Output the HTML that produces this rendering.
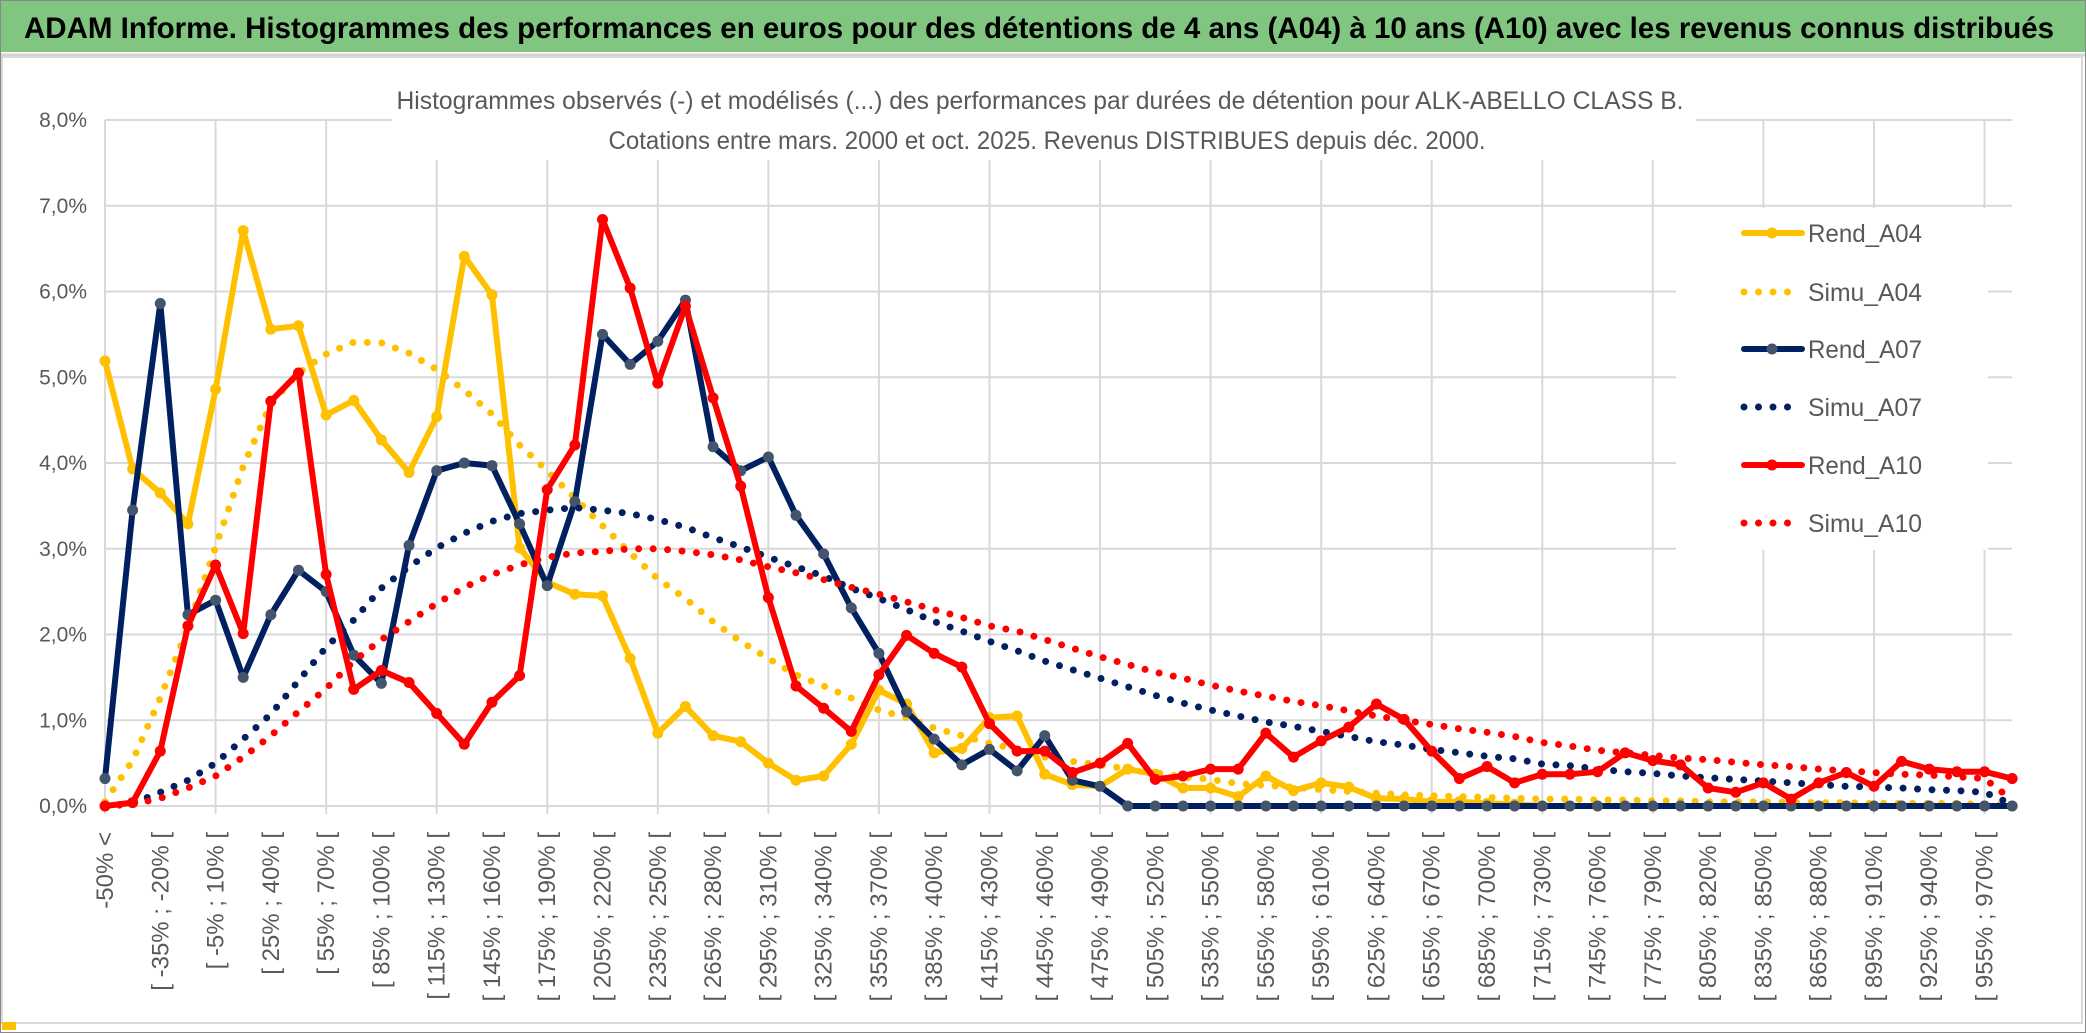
<!DOCTYPE html>
<html><head><meta charset="utf-8"><style>
html,body{margin:0;padding:0;background:#fff;}
svg{display:block;font-family:"Liberation Sans",sans-serif;}
</style></head><body>
<svg id="chart" width="2086" height="1033" viewBox="0 0 2086 1033" xmlns="http://www.w3.org/2000/svg">
<rect x="0" y="0" width="2086" height="1033" fill="#fff"/>
<rect x="0" y="0" width="2086" height="52" fill="#80c680"/>
<line x1="0" y1="55" x2="2086" y2="55" stroke="#d4d4d4" stroke-width="3"/>
<text x="24" y="38" font-size="30" font-weight="bold" fill="#000" textLength="2030" lengthAdjust="spacingAndGlyphs">ADAM Informe. Histogrammes des performances en euros pour des détentions de 4 ans (A04) à 10 ans (A10) avec les revenus connus distribués</text>
<rect x="2" y="57" width="2080" height="966" fill="none" stroke="#d9d9d9" stroke-width="2"/>
<rect x="0.5" y="0.5" width="2085" height="1032" fill="none" stroke="#888" stroke-width="1"/>
<rect x="2" y="1022" width="14" height="8" fill="#ffc000"/>
<rect x="2064" y="968" width="18" height="10" fill="#ffc000" opacity="0"/>
<g id="grid"></g>
<g id="yaxis"></g>
<g id="xaxis"></g>
<rect x="392" y="82" width="1304" height="78" fill="#fff"/>
<text x="1040" y="109" font-size="25" fill="#595959" text-anchor="middle" textLength="1287" lengthAdjust="spacingAndGlyphs">Histogrammes observés (-) et modélisés (...) des performances par durées de détention pour ALK-ABELLO CLASS B.</text>
<text x="1047" y="149" font-size="25" fill="#595959" text-anchor="middle" textLength="877" lengthAdjust="spacingAndGlyphs">Cotations entre mars. 2000 et oct. 2025. Revenus DISTRIBUES depuis déc. 2000.</text>
<g id="series"></g>
<rect x="1676" y="208" width="312" height="342" fill="#fff"/>
<g id="legend"></g>
</svg>
<script>
const categories = ["-50% <","[ -50% ; -35% [","[ -35% ; -20% [","[ -20% ; -5% [","[ -5% ; 10% [","[ 10% ; 25% [","[ 25% ; 40% [","[ 40% ; 55% [","[ 55% ; 70% [","[ 70% ; 85% [","[ 85% ; 100% [","[ 100% ; 115% [","[ 115% ; 130% [","[ 130% ; 145% [","[ 145% ; 160% [","[ 160% ; 175% [","[ 175% ; 190% [","[ 190% ; 205% [","[ 205% ; 220% [","[ 220% ; 235% [","[ 235% ; 250% [","[ 250% ; 265% [","[ 265% ; 280% [","[ 280% ; 295% [","[ 295% ; 310% [","[ 310% ; 325% [","[ 325% ; 340% [","[ 340% ; 355% [","[ 355% ; 370% [","[ 370% ; 385% [","[ 385% ; 400% [","[ 400% ; 415% [","[ 415% ; 430% [","[ 430% ; 445% [","[ 445% ; 460% [","[ 460% ; 475% [","[ 475% ; 490% [","[ 490% ; 505% [","[ 505% ; 520% [","[ 520% ; 535% [","[ 535% ; 550% [","[ 550% ; 565% [","[ 565% ; 580% [","[ 580% ; 595% [","[ 595% ; 610% [","[ 610% ; 625% [","[ 625% ; 640% [","[ 640% ; 655% [","[ 655% ; 670% [","[ 670% ; 685% [","[ 685% ; 700% [","[ 700% ; 715% [","[ 715% ; 730% [","[ 730% ; 745% [","[ 745% ; 760% [","[ 760% ; 775% [","[ 775% ; 790% [","[ 790% ; 805% [","[ 805% ; 820% [","[ 820% ; 835% [","[ 835% ; 850% [","[ 850% ; 865% [","[ 865% ; 880% [","[ 880% ; 895% [","[ 895% ; 910% [","[ 910% ; 925% [","[ 925% ; 940% [","[ 940% ; 955% [","[ 955% ; 970% [","> 970%"];
const yTicks = [0,1,2,3,4,5,6,7,8];
const yTickLabels = ["0,0%","1,0%","2,0%","3,0%","4,0%","5,0%","6,0%","7,0%","8,0%"];
const rendA04 = [5.19,3.93,3.65,3.29,4.86,6.71,5.56,5.60,4.56,4.73,4.27,3.89,4.54,6.41,5.96,3.01,2.61,2.47,2.45,1.72,0.85,1.16,0.82,0.75,0.50,0.30,0.35,0.72,1.35,1.19,0.62,0.67,1.03,1.05,0.37,0.25,0.23,0.43,0.37,0.21,0.21,0.11,0.35,0.18,0.27,0.22,0.09,0.08,0.05,0.05,0.03,0.02,0,0,0,0,0,0,0,0,0,0,0,0,0,0,0,0,0,0];
const simuA04 = [0.05,0.53,1.26,2.08,3.02,3.96,4.69,5.05,5.27,5.41,5.40,5.28,5.09,4.85,4.57,4.21,3.91,3.59,3.27,2.95,2.65,2.42,2.15,1.92,1.72,1.53,1.40,1.26,1.12,1.03,0.91,0.82,0.73,0.66,0.57,0.52,0.48,0.43,0.39,0.34,0.31,0.26,0.24,0.22,0.19,0.17,0.15,0.13,0.12,0.11,0.10,0.09,0.08,0.08,0.07,0.07,0.06,0.06,0.05,0.05,0.05,0.04,0.04,0.04,0.03,0.03,0.03,0.03,0.02,0.01];
const rendA07 = [0.32,3.45,5.86,2.23,2.40,1.50,2.23,2.75,2.50,1.76,1.43,3.04,3.91,4.00,3.97,3.29,2.57,3.55,5.50,5.15,5.42,5.90,4.19,3.91,4.07,3.39,2.94,2.31,1.78,1.10,0.78,0.48,0.66,0.41,0.82,0.30,0.23,0,0,0,0,0,0,0,0,0,0,0,0,0,0,0,0,0,0,0,0,0,0,0,0,0,0,0,0,0,0,0,0,0];
const simuA07 = [0,0.03,0.16,0.30,0.50,0.78,1.07,1.46,1.85,2.17,2.54,2.79,3.01,3.18,3.32,3.41,3.45,3.48,3.45,3.41,3.34,3.25,3.13,3.02,2.90,2.79,2.68,2.54,2.42,2.29,2.15,2.04,1.92,1.81,1.69,1.59,1.49,1.39,1.29,1.20,1.12,1.05,0.98,0.93,0.87,0.81,0.75,0.71,0.66,0.62,0.58,0.55,0.49,0.47,0.43,0.40,0.38,0.35,0.33,0.31,0.29,0.27,0.25,0.23,0.22,0.21,0.19,0.18,0.16,0.02];
const rendA10 = [0,0.04,0.64,2.10,2.81,2.01,4.72,5.05,2.70,1.36,1.58,1.44,1.08,0.72,1.21,1.52,3.69,4.21,6.84,6.04,4.93,5.83,4.76,3.73,2.43,1.40,1.14,0.87,1.53,1.99,1.78,1.62,0.96,0.64,0.64,0.39,0.50,0.73,0.31,0.35,0.43,0.43,0.85,0.57,0.76,0.92,1.19,1.01,0.64,0.32,0.46,0.27,0.37,0.37,0.40,0.62,0.53,0.48,0.21,0.16,0.27,0.08,0.27,0.39,0.23,0.52,0.43,0.40,0.40,0.32];
const simuA10 = [0,0.02,0.09,0.21,0.35,0.57,0.82,1.10,1.37,1.69,1.94,2.15,2.36,2.55,2.70,2.81,2.90,2.95,2.97,3.00,3.00,2.97,2.93,2.87,2.79,2.72,2.64,2.55,2.47,2.38,2.29,2.20,2.10,2.04,1.94,1.84,1.74,1.65,1.56,1.49,1.41,1.34,1.28,1.22,1.17,1.11,1.05,1.00,0.95,0.90,0.86,0.81,0.74,0.70,0.65,0.62,0.59,0.56,0.54,0.51,0.48,0.46,0.43,0.41,0.39,0.37,0.36,0.34,0.32,0.07];
const seriesNames = ["Rend_A04","Simu_A04","Rend_A07","Simu_A07","Rend_A10","Simu_A10"];

const NS = "http://www.w3.org/2000/svg";
const X0 = 105, STEP = 27.64, Y0 = 806, PER = 85.75, XR = 2012;
function xPos(i){ return X0 + i*STEP; }
function yPos(v){ return Y0 - v*PER; }
function mk(tag, attrs, parent){
  const e = document.createElementNS(NS, tag);
  for (const k in attrs) e.setAttribute(k, attrs[k]);
  parent.appendChild(e);
  return e;
}
const grid = document.getElementById('grid');
yTicks.forEach(function(t){
  const l = mk('line', {x1:X0, x2:XR, y1:yPos(t), y2:yPos(t), stroke:'#d9d9d9', 'stroke-width':2}, grid);
  
  
});
for (let i=0;i<categories.length;i+=4){
  const l = mk('line', {x1:xPos(i), x2:xPos(i), y1:yPos(8), y2:Y0+8, stroke:'#d9d9d9', 'stroke-width':2}, grid);
  
  
}
const yaxis = document.getElementById('yaxis');
yTicks.forEach(function(t,k){
  const tx = mk('text', {x:87, y:yPos(t)+7, 'font-size':21, fill:'#595959', 'text-anchor':'end'}, yaxis);
  tx.textContent = yTickLabels[k];
  
  
});
const xaxis = document.getElementById('xaxis');
categories.forEach(function(c,i){
  if (i%2) return;
  const tx = mk('text', {transform:'translate('+(xPos(i)+8)+',832) rotate(-90)', 'font-size':24, fill:'#595959', 'text-anchor':'end'}, xaxis);
  tx.textContent = c;
  
  
});
const layer = document.getElementById('series');
function pathOf(vals){ return vals.map(function(v,i){ return (i?'L':'M')+xPos(i).toFixed(1)+' '+yPos(v).toFixed(1); }).join(' '); }
function solid(vals, color, mcolor, name){
  const g = mk('g', {}, layer);
  
  
  mk('path', {d:pathOf(vals), fill:'none', stroke:color, 'stroke-width':6, 'stroke-linejoin':'round', 'stroke-linecap':'round'}, g);
  vals.forEach(function(v,i){
    const c = mk('circle', {cx:xPos(i), cy:yPos(v), r:5.5, fill:mcolor}, g);
    
    
  });
}
function dotted(vals, color, name){
  const p = mk('path', {d:pathOf(vals), fill:'none', stroke:color, 'stroke-width':7, 'stroke-linecap':'round', 'stroke-dasharray':'0 14.5'}, layer);
  
  
}
solid(rendA04, '#ffc000', '#ffc000', 'series-rend-a04');
dotted(simuA04, '#ffc000', 'series-simu-a04');
solid(rendA07, '#002060', '#44546a', 'series-rend-a07');
dotted(simuA07, '#002060', 'series-simu-a07');
solid(rendA10, '#ff0000', '#ff0000', 'series-rend-a10');
dotted(simuA10, '#ff0000', 'series-simu-a10');

const legend = document.getElementById('legend');
const legColors = ['#ffc000','#ffc000','#002060','#002060','#ff0000','#ff0000'];
const legMarker = ['#ffc000','','#44546a','','#ff0000',''];
const legY = [233,292,349,407,465,523];
seriesNames.forEach(function(n,k){
  const g = mk('g', {}, legend);
  
  
  const y = legY[k];
  if (k%2===0){
    mk('line', {x1:1744, x2:1802, y1:y, y2:y, stroke:legColors[k], 'stroke-width':6, 'stroke-linecap':'round'}, g);
    mk('circle', {cx:1772, cy:y, r:5.5, fill:legMarker[k]}, g);
  } else {
    mk('line', {x1:1744, x2:1802, y1:y, y2:y, stroke:legColors[k], 'stroke-width':7, 'stroke-linecap':'round', 'stroke-dasharray':'0 14.5'}, g);
  }
  const t = mk('text', {x:1808, y:y+9, 'font-size':25, fill:'#595959', textLength:114, lengthAdjust:'spacingAndGlyphs'}, g);
  t.textContent = n;
});
</script>
</body></html>
